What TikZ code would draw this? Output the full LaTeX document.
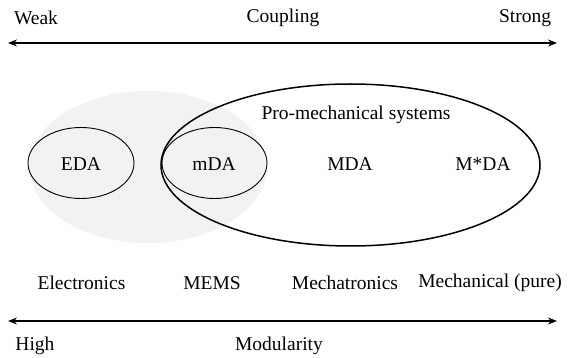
\documentclass[tikz,border=0pt]{standalone}
\usepackage{fontspec}
\setmainfont{Liberation Serif}
\usetikzlibrary{arrows.meta}
\definecolor{bgshade}{HTML}{F1F2F2}
\tikzset{
  lbl/.style={inner sep=0pt, font=\fontsize{19.5}{23}\selectfont},
  axis/.style={line width=1.4pt, {Stealth[length=9pt,width=7pt]}-{Stealth[length=9pt,width=7pt]}},
  small/.style={draw, line width=0.9pt},
  big/.style={draw, line width=1.5pt},
}
\begin{document}
\begin{tikzpicture}[x=1pt,y=-1pt]
\useasboundingbox (0,0) rectangle (571,358);
% top axis
\coordinate (tl) at (8,43);
\coordinate (tr) at (557,43);
\draw[axis] (tl) -- (tr);
\node[lbl] (weak) at (36,18) {Weak};
\node[lbl] (coupling) at (283,18) {Coupling};
\node[lbl] (strong) at (525,18) {Strong};
% shapes
\fill[bgshade] (148,167) ellipse [x radius=119, y radius=76];
\draw[small] (81,163) ellipse [x radius=53, y radius=35.5];
\draw[small] (214.5,163) ellipse [x radius=52.5, y radius=35.5];
\draw[big] (350.5,165) ellipse [x radius=189.5, y radius=81];
\node[lbl] (pro) at (356,115) {Pro-mechanical systems};
\node[lbl] (eda) at (81,164) {EDA};
\node[lbl] (mda1) at (214,164) {mDA};
\node[lbl] (mda2) at (350,164) {MDA};
\node[lbl] (msda) at (483,164) {M*DA};
% bottom labels
\node[lbl] (elec) at (81.5,283) {Electronics};
\node[lbl] (mems) at (212,283) {MEMS};
\node[lbl] (mecha) at (345,283) {Mechatronics};
\node[lbl] (mech) at (490,283) {Mechanical (pure)};
% bottom axis
\coordinate (bl) at (8,321);
\coordinate (br) at (557,321);
\draw[axis] (bl) -- (br);
\node[lbl] (high) at (35,346) {High};
\node[lbl] (mod) at (279,346) {Modularity};
\end{tikzpicture}
\end{document}
